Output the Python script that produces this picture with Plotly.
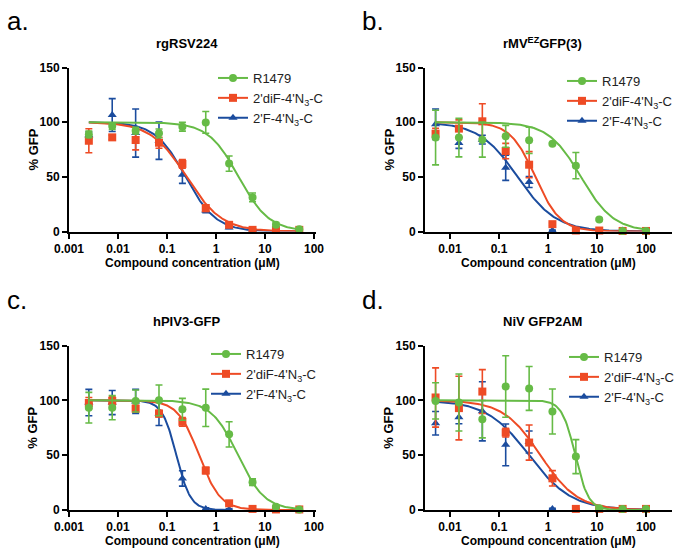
import numpy as np
import plotly.graph_objects as go

W, H = 685, 556
FONT = "Arial, Liberation Sans, Helvetica, sans-serif"

# ---------------- data ----------------
conc_ac = [0.00254, 0.00762, 0.0229, 0.0686, 0.206, 0.617, 1.85, 5.56, 16.7, 50]
conc_bd = [0.00508, 0.0152, 0.0457, 0.137, 0.412, 1.23, 3.70, 11.1, 33.3, 100]

series_names = ["R1479", "2'diF-4'N<sub>3</sub>-C", "2'F-4'N<sub>3</sub>-C"]
series_colors = ["#66BB46", "#EE4B25", "#1B4C9E"]
series_symbols = ["circle", "square", "triangle-up"]

panel_titles = ["rgRSV224", "rMV<sup>EZ</sup>GFP(3)", "hPIV3-GFP", "NiV GFP2AM"]
panel_letters = ["a.", "b.", "c.", "d."]

ticks_ac = [0.001, 0.01, 0.1, 1, 10, 100]
ticktext_ac = ["0.001", "0.01", "0.1", "1", "10", "100"]
ticks_bd = [0.01, 0.1, 1, 10, 100]
ticktext_bd = ["0.01", "0.1", "1", "10", "100"]
y_ticks = [0, 50, 100, 150]

# panel a: rgRSV224
a_r1479 = [88.8, 96.4, 92.2, 89.8, 95.8, 99.8, 62.1, 31.2, 6.1, 2.1]
a_r1479_sd = [3, 3, 3, 4, 4, 10, 7, 4, 2, 1]
a_dif = [83.0, 86.1, 83.7, 81.2, 61.8, 21.4, 6.1, 1.5, 1.5, 1.5]
a_dif_sd = [11, 2, 9, 5, 4, 3, 2, 1, 1, 1]
a_f = [88.0, 106.5, 90.0, 83.0, 52.0, 19.3, 3.7, 1.0, 0.6, 0.5]
a_f_sd = [3, 15, 22, 17, 8, 2, 1, 1, 1, 1]

# panel b: rMV-EZ GFP(3)
b_r1479 = [85.9, 85.9, 84.0, 87.1, 83.4, 80.3, 60.2, 11.0, 0.5, 0.5]
b_r1479_sd = [25, 17.6, 16, 10, 12, 1, 12, 1, 0.5, 0.5]
b_dif = [89.5, 94.1, 100.8, 73.6, 61.1, 6.7, 0.9, 0.9, 0.5, 0.5]
b_dif_sd = [5, 8, 16, 7, 12, 1, 0.5, 0.5, 0.5, 0.5]
b_f = [98.1, 81.0, 84.0, 58.3, 45.2, 0.9, 0.5, 0.5, 0.9, 0.5]
b_f_sd = [14, 5, 4, 11.5, 5, 0.5, 0.5, 0.5, 0.5, 0.5]

# panel c: hPIV3-GFP
c_r1479 = [93.3, 93.3, 99.4, 100.0, 91.8, 93.2, 69.0, 25.4, 3.0, 0.5]
c_r1479_sd = [14, 11, 10, 14, 10, 17, 11.5, 3, 1, 0.5]
c_dif = [97.6, 99.4, 92.4, 87.9, 80.4, 36.0, 6.1, 1.0, 0.5, 0.5]
c_dif_sd = [5, 4, 3, 3, 4, 3, 1, 0.5, 0.5, 0.5]
c_f = [98.0, 98.0, 99.0, 88.0, 28.8, 1.0, 0.5, None, None, None]
c_f_sd = [12, 11, 11, 11, 7, 1, 0.5, None, None, None]

# panel d: NiV GFP2AM
d_r1479 = [99.5, 98.0, 82.8, 112.6, 110.8, 89.8, 48.7, 1.5, 1.0, 1.0]
d_r1479_sd = [16.5, 26, 17, 28, 20, 20.5, 15.5, 1, 0.5, 0.5]
d_dif = [102.6, 92.9, 108.0, 70.6, 61.5, 28.9, 1.0, 1.0, 1.0, 1.0]
d_dif_sd = [27, 29, 20, 4, 16, 7, 0.5, 0.5, 0.5, 0.5]
d_f = [79.1, 84.6, 90.0, 59.4, 62.0, 1.0, 0.5, 0.5, 0.5, 0.5]
d_f_sd = [10.7, 6, 27, 19, 10, 0.5, 0.5, 0.5, 0.5, 0.5]

# fitted dose-response parameters (IC50 in uM, Hill slope)
a_ic50 = [2.9, 0.25, 0.24]
a_hill = [1.4, 1.2, 1.4]
b_ic50 = [4.7, 0.55, 0.24]
b_hill = [1.3, 1.7, 1.1]
c_ic50 = [2.8, 0.45, 0.155]
c_hill = [1.6, 2.0, 3.0]
d_ic50 = [3.6, 0.7, 0.41]
d_hill = [3.2, 1.15, 1.0]

# ---------------- layout geometry (pixels) ----------------
panels = [
    dict(conc=conc_ac, vals=[a_r1479, a_dif, a_f], sds=[a_r1479_sd, a_dif_sd, a_f_sd],
         ic50=a_ic50, hill=a_hill, xr=[-3.0, 2.04], tv=ticks_ac, tt=ticktext_ac,
         box=(69, 316, 67.5, 231.5)),
    dict(conc=conc_bd, vals=[b_r1479, b_dif, b_f], sds=[b_r1479_sd, b_dif_sd, b_f_sd],
         ic50=b_ic50, hill=b_hill, xr=[-2.51, 2.53], tv=ticks_bd, tt=ticktext_bd,
         box=(425, 672, 67.5, 231.5)),
    dict(conc=conc_ac, vals=[c_r1479, c_dif, c_f], sds=[c_r1479_sd, c_dif_sd, c_f_sd],
         ic50=c_ic50, hill=c_hill, xr=[-3.0, 2.04], tv=ticks_ac, tt=ticktext_ac,
         box=(69, 316, 345.5, 510)),
    dict(conc=conc_bd, vals=[d_r1479, d_dif, d_f], sds=[d_r1479_sd, d_dif_sd, d_f_sd],
         ic50=d_ic50, hill=d_hill, xr=[-2.51, 2.53], tv=ticks_bd, tt=ticktext_bd,
         box=(425, 672, 345.5, 510)),
]


def fx(x):
    return x / W


def fy(y):
    return 1 - y / H


fig = go.Figure()
layout = dict(
    width=W, height=H, margin=dict(l=0, r=0, t=0, b=0, autoexpand=False),
    paper_bgcolor="white", plot_bgcolor="white",
    font=dict(family=FONT, color="#111"), showlegend=True,
)
annotations = []

for i, p in enumerate(panels):
    n = "" if i == 0 else str(i + 1)
    xa, ya = "x" + n, "y" + n
    lg = "legend" + n
    x0, x1, y0, y1 = p["box"]
    for s in [2, 1, 0]:
        xs = [c for c, v in zip(p["conc"], p["vals"][s]) if v is not None]
        vs = [v for v in p["vals"][s] if v is not None]
        ss = [v for v in p["sds"][s] if v is not None]
        # fitted curve
        lx = np.linspace(np.log10(min(xs)), np.log10(max(xs)), 200)
        cx = 10 ** lx
        cy = 100.0 / (1.0 + (cx / p["ic50"][s]) ** p["hill"][s])
        fig.add_trace(go.Scatter(
            x=cx, y=cy, mode="lines", xaxis=xa, yaxis=ya,
            line=dict(color=series_colors[s], width=2), showlegend=False,
            hoverinfo="skip", cliponaxis=False))
        # data points with SD
        fig.add_trace(go.Scatter(
            x=xs, y=vs, mode="markers", xaxis=xa, yaxis=ya,
            marker=dict(symbol=series_symbols[s], size=8, color=series_colors[s]),
            error_y=dict(type="data", array=ss, visible=True, color=series_colors[s],
                         thickness=1.6, width=3.5),
            showlegend=False, cliponaxis=False, name=series_names[s]))
    # legend entries
    for s in range(3):
        fig.add_trace(go.Scatter(
            x=[None], y=[None], mode="lines+markers", xaxis=xa, yaxis=ya,
            name=series_names[s], legend=lg,
            line=dict(color=series_colors[s], width=2),
            marker=dict(symbol=series_symbols[s], size=8, color=series_colors[s])))

    layout["xaxis" + n] = dict(
        domain=[fx(x0), fx(x1)], anchor=ya, type="log", range=p["xr"],
        tickvals=p["tv"], ticktext=p["tt"], showline=True, linecolor="black",
        linewidth=2, ticks="outside", ticklen=5, tickwidth=2, tickcolor="black",
        showgrid=False, zeroline=False, automargin=False,
        tickfont=dict(family=FONT, size=12, color="black", weight="bold"))
    layout["yaxis" + n] = dict(
        domain=[fy(y1), fy(y0)], anchor=xa, range=[0, 150], tickvals=y_ticks,
        showline=True, linecolor="black", linewidth=2, ticks="outside", ticklen=5,
        tickwidth=2, tickcolor="black", showgrid=False, zeroline=False, automargin=False,
        tickfont=dict(family=FONT, size=12, color="black", weight="bold"))

    cxp = (x0 + x1) / 2
    # panel title
    annotations.append(dict(
        text="<b>" + panel_titles[i] + "</b>", x=fx(cxp - 6),
        y=fy(y0 - 24), xref="paper", yref="paper", showarrow=False,
        xanchor="center", yanchor="middle", font=dict(size=13, family=FONT, color="black")))
    # x axis title
    annotations.append(dict(
        text="<b>Compound concentration (\u03bcM)</b>", x=fx(cxp), y=fy(y1 + 31),
        xref="paper", yref="paper", showarrow=False, xanchor="center",
        yanchor="middle", font=dict(size=12, family=FONT, color="black")))
    # y axis title
    annotations.append(dict(
        text="<b>% GFP</b>", x=fx(x0 - 36), y=fy((y0 + y1) / 2),
        xref="paper", yref="paper", showarrow=False, xanchor="center",
        yanchor="middle", textangle=-90, font=dict(size=13, family=FONT, color="black")))
    # panel letter
    annotations.append(dict(
        text=panel_letters[i], x=fx(5 if i % 2 == 0 else 360),
        y=fy(y0 - 46), xref="paper", yref="paper", showarrow=False,
        xanchor="left", yanchor="middle", font=dict(size=26, family=FONT, color="black")))

    # legend placement
    leg_left = [213, 562, 206, 564][i]
    leg_top = [63, 66, 339, 342][i]
    layout[lg] = dict(
        x=fx(leg_left), y=fy(leg_top), xanchor="left", yanchor="top",
        bgcolor="rgba(0,0,0,0)", borderwidth=0, itemwidth=30, tracegroupgap=0,
        font=dict(size=13, family=FONT, color="#222"), traceorder="normal")

layout["annotations"] = annotations
fig.update_layout(**layout)
fig.write_html("out.html", config={"displayModeBar": False},
               post_script="document.body.style.margin='0px';")
